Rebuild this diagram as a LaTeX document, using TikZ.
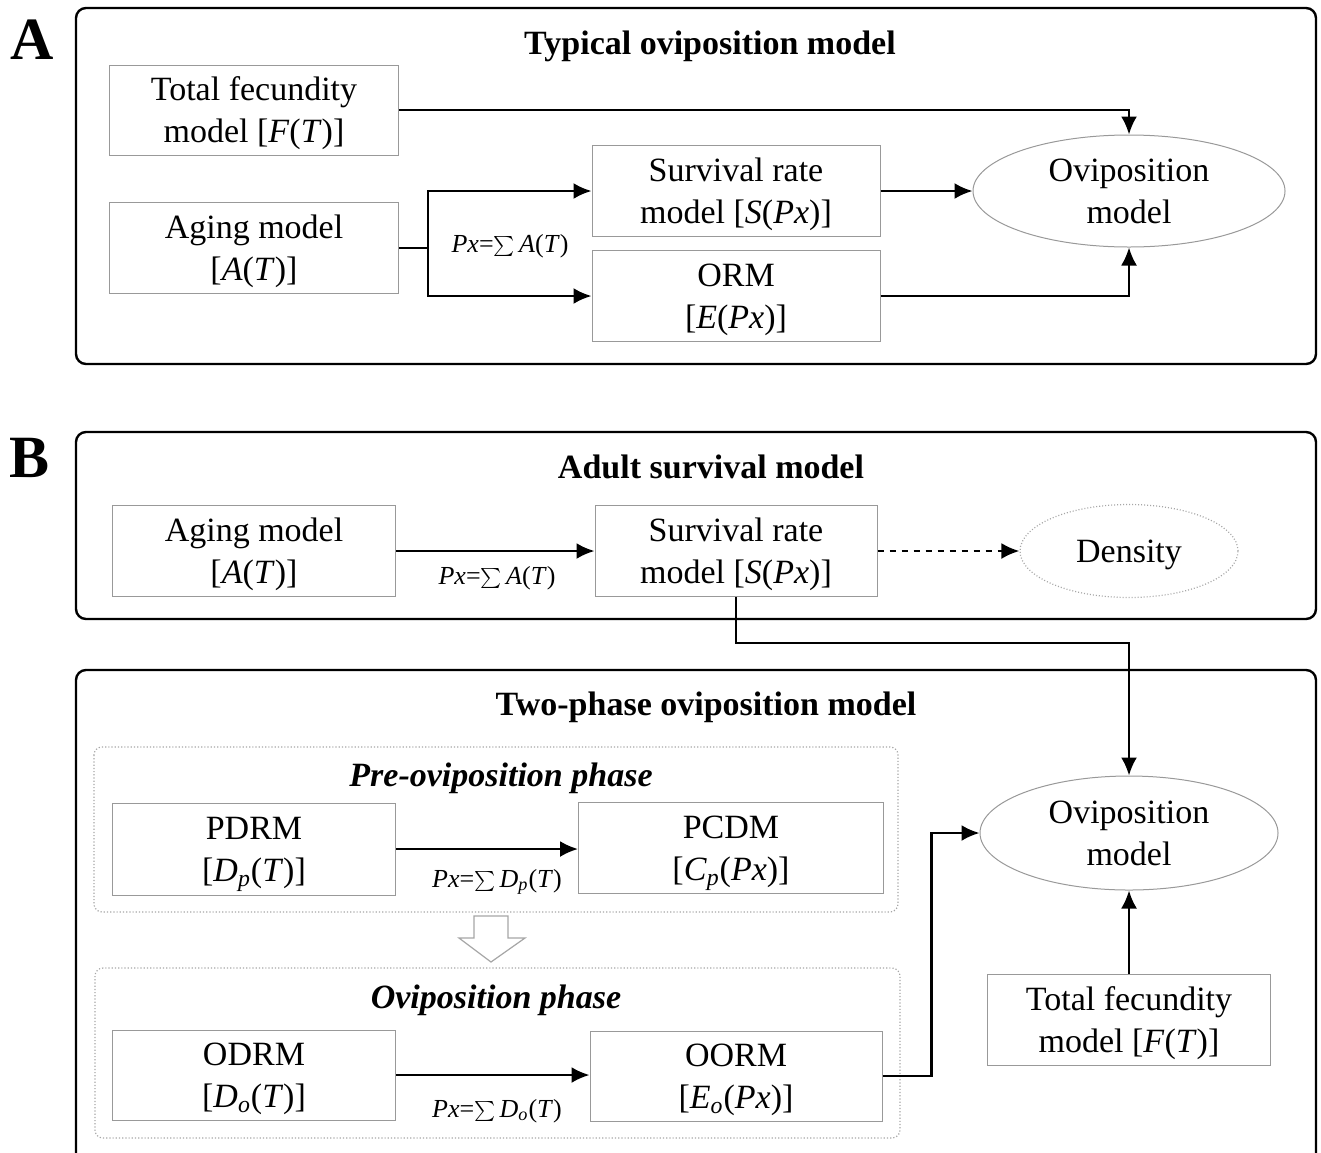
\documentclass[tikz,border=0pt]{standalone}
\usepackage{fontspec}
\setmainfont{Liberation Serif}
\usepackage{tikz}
\usetikzlibrary{positioning,shapes.geometric,arrows.meta}

\newcommand{\vi}[1]{\textit{#1}}

\tikzset{
  model/.style={draw=gray!80, line width=0.5pt, fill=white, align=center, inner sep=0pt,
    text depth=0pt, font=\fontsize{17}{21}\selectfont},
  flow/.style={-{Latex[length=9pt,width=8pt]}, line width=1.2pt},
  frame/.style={line width=1.2pt, rounded corners=5pt},
  phase/.style={draw=gray!70, densely dotted, line width=0.6pt, rounded corners=4pt},
  title/.style={font=\bfseries\fontsize{17}{20}\selectfont},
  pxlabel/.style={font=\fontsize{13}{15}\selectfont},
  panel/.style={font=\bfseries\fontsize{30}{30}\selectfont},
}

\begin{document}
\begin{tikzpicture}[x=0.5pt, y=-0.5pt]
\useasboundingbox (0,0) rectangle (1321,1152);

% panel A
\node[panel] (labA) at (32,40) {A};
\draw[frame] (76,8) rectangle (1316,364);
\node[title] (titA) at (710,46) {Typical oviposition model};

\node[model, minimum width=144.5pt, minimum height=45pt] (fecA) at (254,110) {Total fecundity\\model [\vi{F}(\vi{T})]};
\node[model, minimum width=144.5pt, minimum height=45.5pt] (ageA) at (254,248) {Aging model\\{}[\vi{A}(\vi{T})]};
\node[model, minimum width=144pt, minimum height=45.5pt] (survA) at (736,191) {Survival rate\\model [\vi{S}(\vi{Px})]};
\node[model, minimum width=144pt, minimum height=45.5pt] (ormA) at (736,296) {ORM\\{}[\vi{E}(\vi{Px})]};
\node[model, ellipse, minimum width=156pt, minimum height=56pt] (ovA) at (1129,191) {Oviposition\\model};
\node[pxlabel] (pxA) at (510,246) {\vi{Px}=$\sum$\,\vi{A}(\vi{T})};

\path (ageA.east) ++(29,0) coordinate (splitA);
\draw[line width=1.2pt] (ageA.east) -- (splitA);
\draw[flow] (splitA) |- (survA.west);
\draw[flow] (splitA) |- (ormA.west);
\draw[flow] (fecA.east) -| (ovA.north);
\draw[flow] (survA.east) -- (ovA.west);
\draw[flow] (ormA.east) -| (ovA.south);

% panel B
\node[panel] (labB) at (30,458) {B};
\draw[frame] (76,432) rectangle (1316,619);
\node[title] (titB) at (711,467) {Adult survival model};

\node[model, minimum width=141.5pt, minimum height=45.5pt] (ageB) at (254,551) {Aging model\\{}[\vi{A}(\vi{T})]};
\node[model, minimum width=141pt, minimum height=45.5pt] (survB) at (736,551) {Survival rate\\model [\vi{S}(\vi{Px})]};
\node[model, ellipse, draw=gray!70, densely dotted, line width=0.6pt, minimum width=109pt,
  minimum height=46.5pt] (dens) at (1129,551) {Density};
\node[pxlabel] (pxB) at (497,578) {\vi{Px}=$\sum$\,\vi{A}(\vi{T})};

\draw[flow] (ageB) -- (survB);
\draw[flow, dashed] (survB) -- (dens);

\draw[frame] (76,670) rectangle (1316,1170);
\node[title] (titC) at (706,707) {Two-phase oviposition model};

\draw[phase] (94,747) rectangle (898,912);
\node[title, font=\bfseries\itshape\fontsize{17}{20}\selectfont] (preT) at (501,778) {Pre-oviposition phase};
\node[model, minimum width=141.5pt, minimum height=46pt] (pdrm) at (254,849) {PDRM\\{}[\vi{D}\textsubscript{\vi{p}}(\vi{T})]};
\node[model, minimum width=152.5pt, minimum height=45.5pt] (pcdm) at (731,848) {PCDM\\{}[\vi{C}\textsubscript{\vi{p}}(\vi{Px})]};
\node[pxlabel] (pxP) at (497,882) {\vi{Px}=$\sum$\,\vi{D}\textsubscript{\vi{p}}(\vi{T})};
\draw[flow] (pdrm.east) -- (pdrm.east -| pcdm.west);

% hollow arrow between the phases
\draw[draw=gray!70, line width=0.6pt, fill=white]
  (474,916) -- (508,916) -- (508,938) -- (525,938) -- (491,962) -- (459,938) -- (474,938) -- cycle;

\draw[phase] (95,968) rectangle (900,1138);
\node[title, font=\bfseries\itshape\fontsize{17}{20}\selectfont] (ovT) at (496,1000) {Oviposition phase};
\node[model, minimum width=141.5pt, minimum height=45pt] (odrm) at (254,1075) {ODRM\\{}[\vi{D}\textsubscript{\vi{o}}(\vi{T})]};
\node[model, minimum width=146pt, minimum height=45pt] (oorm) at (736,1076) {OORM\\{}[\vi{E}\textsubscript{\vi{o}}(\vi{Px})]};
\node[pxlabel] (pxO) at (497,1111) {\vi{Px}=$\sum$\,\vi{D}\textsubscript{\vi{o}}(\vi{T})};
\draw[flow] (odrm.east) -- (odrm.east -| oorm.west);

\node[model, ellipse, minimum width=149pt, minimum height=57pt] (ovB) at (1129,833) {Oviposition\\model};
\node[model, minimum width=141.5pt, minimum height=45.5pt] (fecB) at (1129,1020) {Total fecundity\\model [\vi{F}(\vi{T})]};

\draw[flow] (survB.south) -- ++(0,46) -| (ovB.north);
\draw[flow] (oorm.east) -- ++(49,0) |- (ovB.west);
\draw[flow] (fecB.north) -- (ovB.south);
\end{tikzpicture}
\end{document}
